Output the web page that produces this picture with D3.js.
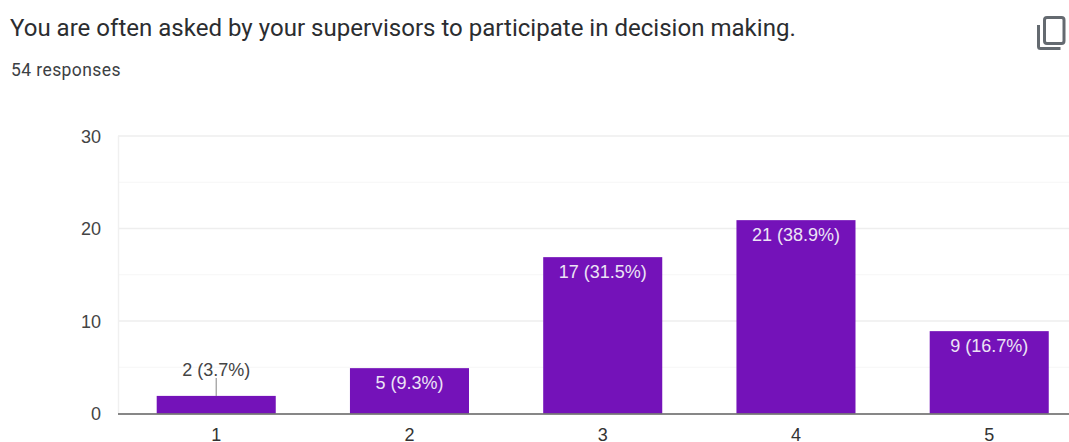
<!DOCTYPE html>
<html><head><meta charset="utf-8">
<script src="https://cdn.jsdelivr.net/npm/d3@7"></script>
<style>html,body{margin:0;padding:0;background:#fff;overflow:hidden}svg{display:block}text{font-family:"Liberation Sans",Arial,sans-serif}text.r{font-family:Roboto,sans-serif}</style>
</head><body><svg id="c" width="1069" height="442"></svg>
<script>
const categories = ["1","2","3","4","5"];
const counts = [2,5,17,21,9];
const labels = ["2 (3.7%)","5 (9.3%)","17 (31.5%)","21 (38.9%)","9 (16.7%)"];
const majorTicks = [0,10,20,30];
const minorTicks = [5,15,25];
const titleText = "You are often asked by your supervisors to participate in decision making.";
const subtitleText = "54 responses";

const svg = d3.select("#c");
const x = d3.scaleBand().domain(categories).range([119.6,1085.85]).paddingInner(0.384).paddingOuter(0.192);
const y = d3.scaleLinear().domain([0,30]).range([413.5,136]);
const barInset = 0.9;

svg.append("text").attr("class","r").attr("x",10).attr("y",36).attr("font-size",24.05).attr("fill","#2b2d30").text(titleText);
svg.append("text").attr("class","r").attr("x",11).attr("y",76).attr("font-size",17.5).attr("letter-spacing",0.42).attr("fill","#3c4043").text(subtitleText);

// copy icon
const ic = svg.append("g").attr("fill","none").attr("stroke","#646a70").attr("stroke-width",3);
ic.append("rect").attr("x",1044.5).attr("y",17.5).attr("width",19.5).attr("height",26).attr("rx",2.5);
ic.append("path").attr("d","M1038.5 25V46.5a2 2 0 0 0 2 2H1060.5");

svg.append("g").selectAll("line").data(minorTicks).join("line")
 .attr("x1",118).attr("x2",1069).attr("y1",d=>y(d)).attr("y2",d=>y(d)).attr("stroke","#f6f6f6").attr("stroke-width",1.2);
svg.append("g").selectAll("line").data(majorTicks.filter(d=>d>0)).join("line")
 .attr("x1",118).attr("x2",1069).attr("y1",d=>y(d)).attr("y2",d=>y(d)).attr("stroke","#eeeeee").attr("stroke-width",1.5);
svg.append("line").attr("x1",118.5).attr("x2",118.5).attr("y1",136).attr("y2",413).attr("stroke","#f0f0f0").attr("stroke-width",1.4);

svg.append("g").selectAll("text").data(majorTicks).join("text")
 .attr("x",101).attr("y",d=>y(d)+6.8).attr("text-anchor","end").attr("font-size",18).attr("fill","#444").text(d=>d);

svg.append("g").selectAll("rect").data(counts).join("rect")
 .attr("x",(d,i)=>x(categories[i])).attr("width",x.bandwidth())
 .attr("y",d=>y(d)+barInset).attr("height",d=>y(0)-y(d)-barInset).attr("fill","#7412b9");

svg.append("line").attr("x1",118).attr("x2",1069).attr("y1",414).attr("y2",414).attr("stroke","#5f5f5f").attr("stroke-width",1.5);

svg.append("g").selectAll("text").data(categories).join("text")
 .attr("x",d=>x(d)+x.bandwidth()/2).attr("y",441).attr("text-anchor","middle").attr("font-size",18).attr("fill","#333").text(d=>d);

// leader for the label that does not fit inside its bar
const cx0 = x(categories[0])+x.bandwidth()/2;
svg.append("line").attr("x1",cx0).attr("x2",cx0).attr("y1",378).attr("y2",y(counts[0])+barInset).attr("stroke","#999").attr("stroke-width",1.2);

svg.append("g").selectAll("text").data(labels).join("text")
 .attr("x",(d,i)=>x(categories[i])+x.bandwidth()/2)
 .attr("y",(d,i)=>counts[i]<3 ? 376 : y(counts[i])+barInset+20.5)
 .attr("text-anchor","middle").attr("font-size",18)
 .attr("fill",(d,i)=>counts[i]<3 ? "#444" : "#ece4f5").text(d=>d);
</script></body></html>
